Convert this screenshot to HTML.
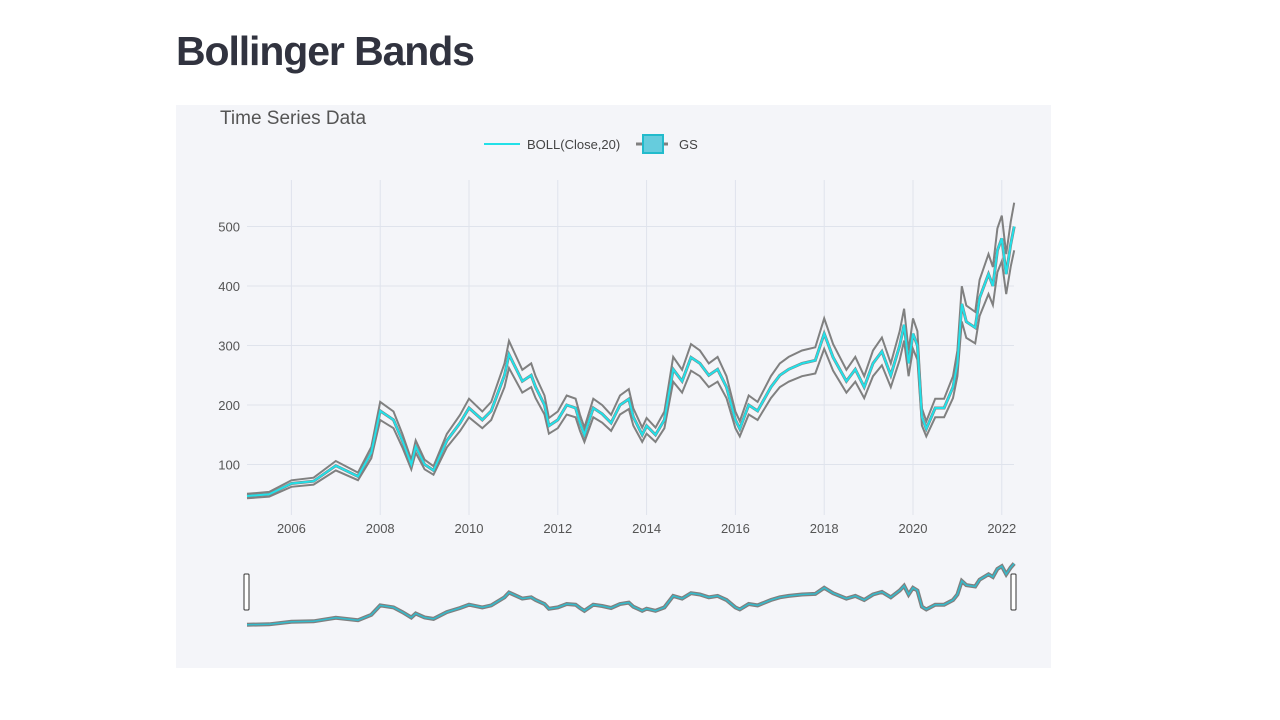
<!DOCTYPE html>
<html><head><meta charset="utf-8"><style>
body{margin:0;background:#fff;width:1280px;height:720px;overflow:hidden;font-family:"Liberation Sans",sans-serif}
h1{position:absolute;left:176px;top:28px;margin:0;font-size:41px;font-weight:bold;color:#31333f;letter-spacing:-1.1px}
</style></head><body>
<h1>Bollinger Bands</h1>
<svg id="c" width="1280" height="720" style="position:absolute;left:0;top:0">
<rect x="176" y="105" width="875" height="563" fill="#f4f5f9"/>
<text x="220" y="124" font-size="19" fill="#555">Time Series Data</text>
<g>
<line x1="484" y1="144" x2="520" y2="144" stroke="#22e0e8" stroke-width="2"/>
<text x="527" y="149" font-size="13" fill="#444">BOLL(Close,20)</text>
<line x1="636" y1="144" x2="668" y2="144" stroke="#808080" stroke-width="3"/>
<rect x="643" y="135" width="20" height="18" fill="#66ccdd" stroke="#22bbcc" stroke-width="2"/>
<text x="679" y="149" font-size="13" fill="#444">GS</text>
</g>
<g id="grid"></g><g id="series"></g><g id="slider"></g>
</svg>
<script>
const years=[2005.0,2005.5,2006.0,2006.5,2007.0,2007.5,2007.8,2008.0,2008.3,2008.5,2008.7,2008.8,2009.0,2009.2,2009.5,2009.8,2010.0,2010.3,2010.5,2010.8,2010.9,2011.0,2011.2,2011.4,2011.5,2011.7,2011.8,2012.0,2012.2,2012.4,2012.5,2012.6,2012.8,2013.0,2013.2,2013.4,2013.6,2013.7,2013.9,2014.0,2014.2,2014.4,2014.6,2014.8,2015.0,2015.2,2015.4,2015.6,2015.8,2016.0,2016.1,2016.3,2016.5,2016.8,2017.0,2017.2,2017.5,2017.8,2018.0,2018.2,2018.5,2018.7,2018.9,2019.1,2019.3,2019.5,2019.7,2019.8,2019.9,2020.0,2020.1,2020.2,2020.3,2020.5,2020.7,2020.9,2021.0,2021.1,2021.2,2021.4,2021.5,2021.7,2021.8,2021.9,2022.0,2022.1,2022.2,2022.28];
const closes=[47,50,68,72,98,80,120,190,175,140,100,130,100,90,140,170,195,175,190,250,285,270,240,250,230,200,165,175,200,195,170,150,195,185,170,200,210,180,150,165,150,175,260,240,280,270,250,260,230,175,160,200,190,230,250,260,270,275,320,280,240,260,230,270,290,250,300,335,270,320,300,180,160,195,195,230,270,370,340,330,380,420,400,460,480,420,470,500];
const yTicks=[100,200,300,400,500];
const xTicks=[2006,2008,2010,2012,2014,2016,2018,2020,2022];
const bandPct=0.08;
const NS="http://www.w3.org/2000/svg";
const X=t=>247+(t-2005)*44.4;
const Y=v=>524-v*0.595;
const SY=v=>631-v*0.135;
function mk(tag,attrs,parent){const e=document.createElementNS(NS,tag);for(const k in attrs)e.setAttribute(k,attrs[k]);parent.appendChild(e);return e;}
const grid=document.getElementById('grid'),ser=document.getElementById('series'),sl=document.getElementById('slider');
yTicks.forEach(v=>{
  const l=mk('line',{x1:247,x2:1014,y1:Y(v),y2:Y(v),stroke:'#dfe3ec','stroke-width':1},grid);
  
  
  const t=mk('text',{x:240,y:Y(v)+5,'font-size':13,fill:'#555','text-anchor':'end'},grid);t.textContent=v;
  
  
});
xTicks.forEach(v=>{
  const l=mk('line',{x1:X(v),x2:X(v),y1:180,y2:515,stroke:'#dfe3ec','stroke-width':1},grid);
  
  
  const t=mk('text',{x:X(v),y:533,'font-size':13,fill:'#555','text-anchor':'middle'},grid);t.textContent=v;
  
  
});
function path(fx,fy,vals){return vals.map((v,i)=>(i?'L':'M')+fx(years[i]).toFixed(1)+','+fy(v).toFixed(1)).join('');}
const upper=closes.map(v=>v*(1+bandPct)),lower=closes.map(v=>v*(1-bandPct));
[[upper,'upper-band'],[lower,'lower-band']].forEach(([d,n])=>{
  const p=mk('path',{d:path(X,Y,d),fill:'none',stroke:'#808080','stroke-width':2},ser);
  
  
});
const pc=mk('path',{d:path(X,Y,closes),fill:'none',stroke:'#808080','stroke-width':3},ser);


const pm=mk('path',{d:path(X,Y,closes),fill:'none',stroke:'#22e0e8','stroke-width':2},ser);


const s1=mk('path',{d:path(X,SY,closes),fill:'none',stroke:'#808080','stroke-width':4},sl);


const s2=mk('path',{d:path(X,SY,closes),fill:'none',stroke:'#33bbcc','stroke-width':1.5},sl);


[244,1011].forEach((x,i)=>{
  const h=mk('rect',{x:x,y:574,width:5,height:36,rx:1,fill:'#fff',stroke:'#333','stroke-width':1},sl);
  
  
});
</script>
</body></html>
